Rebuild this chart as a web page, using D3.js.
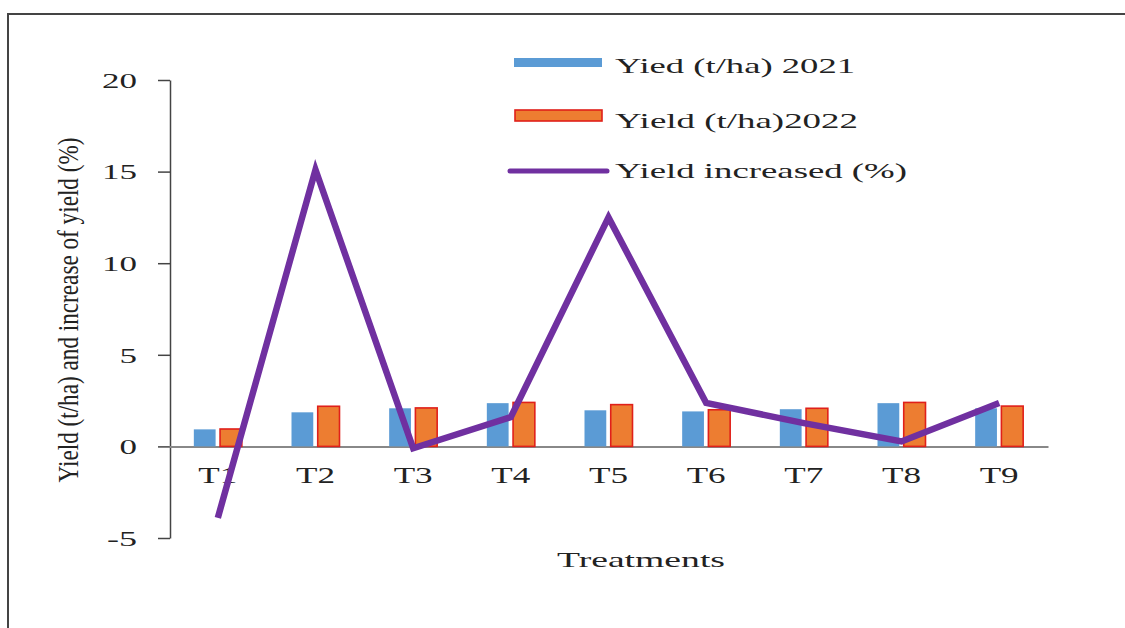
<!DOCTYPE html>
<html>
<head>
<meta charset="utf-8">
<script src="https://cdn.jsdelivr.net/npm/d3@7"></script>
<style>
  html, body { margin: 0; padding: 0; background: #fff; }
  svg { display: block; }
  text { font-family: "Liberation Serif", "Times New Roman", serif; fill: #222; }
</style>
</head>
<body>
<svg id="chart" width="1125" height="628"></svg>
<script>
// ---- data ----
const categories = ["T1", "T2", "T3", "T4", "T5", "T6", "T7", "T8", "T9"];
const yield2021 = [0.93, 1.86, 2.08, 2.36, 1.97, 1.91, 2.03, 2.36, 2.08];
const yield2022 = [0.95, 2.19, 2.10, 2.40, 2.28, 2.00, 2.08, 2.40, 2.20];
const yieldIncrease = [-3.9, 15.1, -0.1, 1.6, 12.5, 2.37, 1.27, 0.27, 2.37];
const yTicks = [-5, 0, 5, 10, 15, 20];
const seriesNames = ["Yied (t/ha) 2021", "Yield (t/ha)2022", "Yield increased (%)"];
const yTitle = "Yield (t/ha) and increase of yield (%)";
const xTitle = "Treatments";

// ---- drawing ----
const svg = d3.select("#chart");

// frame (top and left border)
svg.append("path")
  .attr("d", "M8,628 L8,14 L1125,14")
  .attr("fill", "none").attr("stroke", "#444").attr("stroke-width", 2);

const x = d3.scaleBand().domain(categories).range([169, 1048]).padding(0);
const y = d3.scaleLinear().domain([-5, 20]).range([538, 80]);
const inner = d3.scaleBand().domain([0, 1]).range([-24, 24]).paddingInner(0.17);

// y axis
const yAxis = svg.append("g").attr("transform", "translate(170,0)")
  .call(d3.axisLeft(y).tickValues(yTicks).tickFormat(d => String(d))
    .tickSize(12).tickSizeOuter(0).tickPadding(21));
yAxis.select(".domain").attr("stroke", "#444").attr("stroke-width", 1.5);
yAxis.selectAll(".tick line").attr("stroke", "#444").attr("stroke-width", 1.5);
yAxis.selectAll(".tick text")
  .attr("font-family", "Liberation Serif").attr("font-size", 22).attr("fill", "#222")
  .attr("dy", "0.33em")
  .attr("textLength", d => (d < 0 ? 30 : String(d).length * 17.5))
  .attr("lengthAdjust", "spacingAndGlyphs");

// x axis
const xAxis = svg.append("g").attr("transform", `translate(0,${y(0)})`)
  .call(d3.axisBottom(x).tickSize(0).tickSizeOuter(0).tickPadding(20));
xAxis.select(".domain").attr("stroke", "#888").attr("stroke-width", 2);
xAxis.selectAll(".tick text")
  .attr("font-family", "Liberation Serif").attr("font-size", 23).attr("fill", "#222")
  .attr("textLength", 39).attr("lengthAdjust", "spacingAndGlyphs");

// bars
const cx = c => x(c) + x.bandwidth() / 2;
svg.append("g").selectAll("rect")
  .data(categories.map((c, i) => ({ c, v: yield2021[i] })))
  .join("rect")
  .attr("x", d => cx(d.c) + inner(0))
  .attr("width", inner.bandwidth())
  .attr("y", d => y(d.v))
  .attr("height", d => y(0) - y(d.v))
  .attr("fill", "#5B9BD5");

svg.append("g").selectAll("rect")
  .data(categories.map((c, i) => ({ c, v: yield2022[i] })))
  .join("rect")
  .attr("x", d => cx(d.c) + inner(1))
  .attr("width", inner.bandwidth())
  .attr("y", d => y(d.v))
  .attr("height", d => y(0) - y(d.v))
  .attr("fill", "#ED7D31")
  .attr("stroke", "#E0201A").attr("stroke-width", 1.6);

// line
const line = d3.line().x((d, i) => cx(categories[i])).y(d => y(d));
svg.append("path")
  .datum(yieldIncrease)
  .attr("d", line)
  .attr("fill", "none")
  .attr("stroke", "#7030A0")
  .attr("stroke-width", 6.5)
  .attr("stroke-linejoin", "miter");

// legend
const lg = svg.append("g");
lg.append("rect").attr("x", 514).attr("y", 58).attr("width", 88).attr("height", 9).attr("fill", "#5B9BD5");
lg.append("rect").attr("x", 515).attr("y", 110).attr("width", 87).attr("height", 11)
  .attr("fill", "#ED7D31").attr("stroke", "#E0201A").attr("stroke-width", 1.6);
lg.append("line").attr("x1", 510).attr("x2", 607).attr("y1", 171).attr("y2", 171)
  .attr("stroke", "#7030A0").attr("stroke-width", 5).attr("stroke-linecap", "round");
const legendY = [73, 128, 178];
const legendW = [240, 243, 292];
seriesNames.forEach((s, i) => {
  lg.append("text").attr("x", 615).attr("y", legendY[i])
    .attr("font-size", 21)
    .attr("textLength", legendW[i]).attr("lengthAdjust", "spacingAndGlyphs")
    .text(s);
});

// axis titles
svg.append("text")
  .attr("transform", "translate(78,310) rotate(-90)")
  .attr("text-anchor", "middle")
  .attr("font-size", 30)
  .attr("textLength", 345).attr("lengthAdjust", "spacingAndGlyphs")
  .text(yTitle);

svg.append("text")
  .attr("x", 641).attr("y", 567)
  .attr("text-anchor", "middle")
  .attr("font-size", 22)
  .attr("textLength", 168).attr("lengthAdjust", "spacingAndGlyphs")
  .text(xTitle);
</script>
</body>
</html>
